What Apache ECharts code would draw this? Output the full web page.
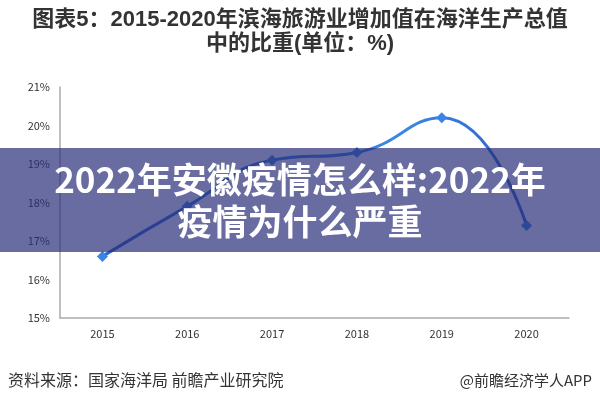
<!DOCTYPE html>
<html>
<head>
<meta charset="utf-8">
<script src="https://cdn.jsdelivr.net/npm/echarts@6/dist/echarts.min.js"></script>
<style>
html,body{margin:0;padding:0;background:#fff;}
#main{width:600px;height:400px;}
</style>
</head>
<body>
<div id="main"></div>
<script>
// 年份 / 比重(%)
var years = ['2015', '2016', '2017', '2018', '2019', '2020'];
var share = [16.6, 17.9, 19.1, 19.3, 20.2, 17.4];
var yTicks = [15, 21, 1]; // min, max, interval

var titleText = '图表5：2015-2020年滨海旅游业增加值在海洋生产总值\n中的比重(单位：%)';
var bandLines = ['2022年安徽疫情怎么样:2022年', '疫情为什么严重'];
var sourceText = '资料来源：国家海洋局 前瞻产业研究院';
var brandText = '@前瞻经济学人APP';

var myChart = echarts.init(document.getElementById('main'));
myChart.setOption({
	backgroundColor: '#fff',
	textStyle: { fontFamily: '"Noto Sans CJK SC", "Liberation Sans", sans-serif' },
	title: {
		text: titleText,
		left: 'center',
		top: 3,
		textStyle: {
			fontSize: 22,
			fontWeight: 'bold',
			color: '#333',
			lineHeight: 24,
			fontFamily: '"Liberation Sans", "Noto Sans CJK SC", sans-serif'
		}
	},
	grid: { left: 60, right: 31, top: 87, bottom: 82 },
	xAxis: {
		type: 'category',
		data: years,
		boundaryGap: true,
		axisLine: { lineStyle: { color: '#aaa', width: 1.5 } },
		axisTick: { show: false },
		axisLabel: { color: '#333', fontSize: 11, margin: 10 }
	},
	yAxis: {
		type: 'value',
		min: yTicks[0],
		max: yTicks[1],
		interval: yTicks[2],
		axisLine: { show: true, lineStyle: { color: '#aaa', width: 1.5 } },
		axisTick: { show: false },
		splitLine: { show: false },
		axisLabel: { color: '#333', fontSize: 11, margin: 10, formatter: '{value}%' }
	},
	series: [{
		type: 'line',
		data: share,
		smooth: 0.5,
		symbol: 'diamond',
		symbolSize: 11,
		itemStyle: { color: '#3a84e6' },
		lineStyle: {
			width: 3,
			color: new echarts.graphic.LinearGradient(0, 0, 1, 0, [
				{ offset: 0, color: '#2f62cc' },
				{ offset: 0.7, color: '#3a88e4' },
				{ offset: 1, color: '#2f62cc' }
			])
		}
	}],
	graphic: [
		{
			type: 'rect',
			z: 100,
			shape: { x: 0, y: 148, width: 600, height: 104 },
			style: { fill: 'rgba(40,45,120,0.7)' }
		},
		{
			type: 'text',
			z: 101,
			left: 'center',
			top: 159,
			style: {
				text: bandLines.join('\n'),
				fill: '#fff',
				font: 'bold 35px "Noto Sans CJK SC", sans-serif',
				lineHeight: 42,
				textAlign: 'center'
			}
		},
		{
			type: 'text',
			left: 8,
			top: 372,
			style: { text: sourceText, fill: '#333', font: '16px "Noto Sans CJK SC", sans-serif' }
		},
		{
			type: 'text',
			right: 8,
			top: 373,
			style: { text: brandText, fill: '#333', font: '15px "Noto Sans CJK SC", sans-serif' }
		}
	]
});
</script>
</body>
</html>
